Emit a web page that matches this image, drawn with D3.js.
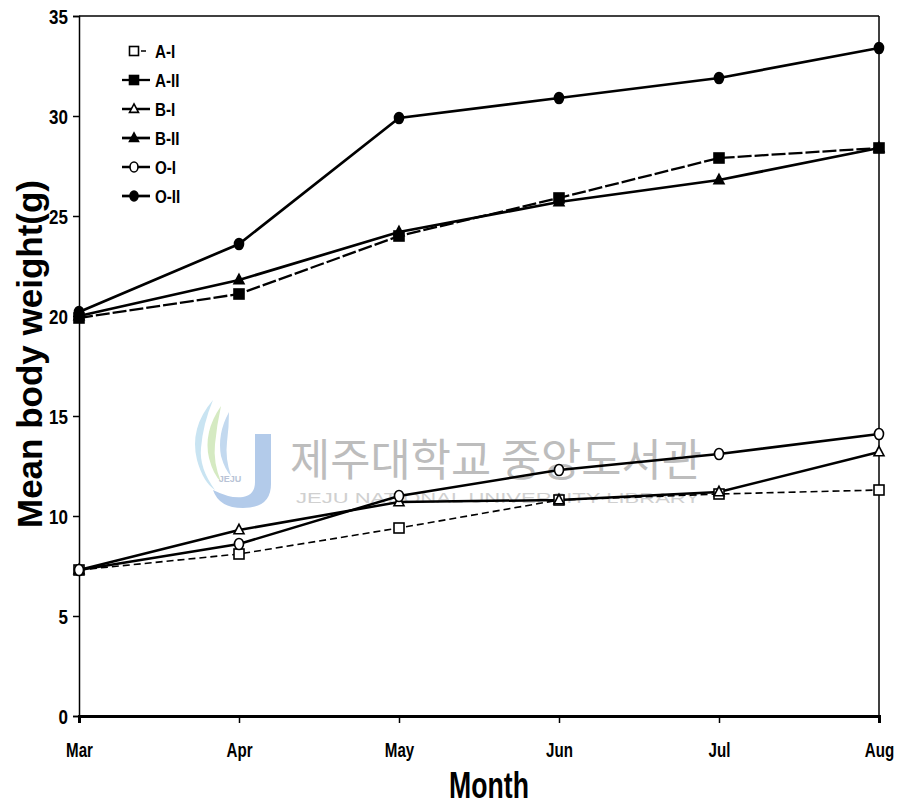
<!DOCTYPE html>
<html>
<head>
<meta charset="utf-8">
<script src="https://cdn.jsdelivr.net/npm/d3@7/dist/d3.min.js"></script>
<style>
  html, body { margin: 0; padding: 0; background: #fff; }
  svg { display: block; }
  .lbl { font-family: "Liberation Sans", Arial, sans-serif; font-weight: bold; fill: #000; }
</style>
</head>
<body>
<svg id="chart" width="904" height="809"></svg>
<script>
// Months on the x axis
const months = ["Mar", "Apr", "May", "Jun", "Jul", "Aug"];
// Y axis tick values
const yTicks = [0, 5, 10, 15, 20, 25, 30, 35];
// Mean body weight (g) per group and month
const seriesNames = ["A-I", "A-II", "B-I", "B-II", "O-I", "O-II"];
const aI   = [7.3, 8.1, 9.4, 10.8, 11.1, 11.3];
const aII  = [19.9, 21.1, 24.0, 25.9, 27.9, 28.4];
const bI   = [7.3, 9.3, 10.7, 10.8, 11.2, 13.2];
const bII  = [20.0, 21.8, 24.2, 25.7, 26.8, 28.4];
const oI   = [7.3, 8.6, 11.0, 12.3, 13.1, 14.1];
const oII  = [20.2, 23.6, 29.9, 30.9, 31.9, 33.4];

const seriesValues = [aI, aII, bI, bII, oI, oII];
// marker shape, filled?, dashed line?, line width
const styles = [
  { shape: "square",   filled: false, dash: "7,4",  width: 1.6 },
  { shape: "square",   filled: true,  dash: "14,3", width: 2.3 },
  { shape: "triangle", filled: false, dash: null,   width: 2.5 },
  { shape: "triangle", filled: true,  dash: null,   width: 2.7 },
  { shape: "circle",   filled: false, dash: null,   width: 2.5 },
  { shape: "circle",   filled: true,  dash: null,   width: 2.7 }
];

const svg = d3.select("#chart");
const margin = { left: 79, right: 25, top: 16, bottom: 93 };
const W = 904, H = 809;

const x = d3.scalePoint().domain(months).range([margin.left, W - margin.right]);
const y = d3.scaleLinear().domain([0, 35]).range([H - margin.bottom, margin.top]);

// Squeeze bold text horizontally (about its x anchor) to get a condensed face
function condense(sel, factor) {
  sel.each(function () {
    const t = d3.select(this);
    const x0 = +t.attr("x") || 0;
    t.attr("x", 0).attr("transform", `translate(${x0},0) scale(${factor},1)`);
  });
}

// Library watermark (faint, behind the data)
const wm = svg.append("g").attr("class", "watermark");
const logo = wm.append("g").attr("transform", "translate(185,398)");
logo.append("path")
  .attr("d", "M70,36 L86,36 L86,86 Q86,110 58,110 Q34,110 28,92 Q46,101 58,99 Q70,97 70,84 Z")
  .attr("fill", "#b3cbea");
logo.append("path")
  .attr("d", "M28,2 Q4,30 12,62 Q18,84 30,92 Q14,70 16,50 Q18,26 28,2 Z")
  .attr("fill", "#c9e4f2");
logo.append("path")
  .attr("d", "M36,8 Q18,34 24,60 Q28,76 36,84 Q28,64 30,46 Q32,26 36,8 Z")
  .attr("fill", "#d5eac2");
logo.append("path")
  .attr("d", "M44,14 Q32,36 36,58 Q40,72 46,78 Q40,60 42,44 Q44,28 44,14 Z")
  .attr("fill", "#c3d9ef");
logo.append("text").attr("x", 45).attr("y", 84).attr("text-anchor", "middle")
  .attr("font-family", "Liberation Sans, Arial, sans-serif").attr("font-size", 9)
  .attr("font-weight", "bold").attr("fill", "#b8c3d6").text("JEJU");
wm.append("text")
  .attr("x", 290).attr("y", 476)
  .attr("font-family", "Noto Sans CJK KR, sans-serif")
  .attr("font-size", 44).attr("fill", "#bdbdbd")
  .attr("textLength", 412).attr("lengthAdjust", "spacingAndGlyphs")
  .text("제주대학교 중앙도서관");
wm.append("text")
  .attr("x", 296).attr("y", 503)
  .attr("font-family", "Liberation Sans, Arial, sans-serif")
  .attr("font-size", 15).attr("fill", "#d0d0d0")
  .attr("textLength", 404).attr("lengthAdjust", "spacingAndGlyphs")
  .text("JEJU NATIONAL UNIVERSITY LIBRARY");

// Frame: top and right edges
svg.append("line").attr("x1", x(months[0])).attr("x2", x(months[5]))
  .attr("y1", y(35)).attr("y2", y(35)).attr("stroke", "#000").attr("stroke-width", 1.5);
svg.append("line").attr("x1", x(months[5])).attr("x2", x(months[5]))
  .attr("y1", y(35)).attr("y2", y(0)).attr("stroke", "#000").attr("stroke-width", 1.5);

// Y axis
const yAxis = svg.append("g")
  .attr("transform", `translate(${margin.left},0)`)
  .call(d3.axisLeft(y).tickValues(yTicks).tickSize(6).tickPadding(5).tickFormat(d3.format("d")));
yAxis.select(".domain").attr("stroke-width", 1.5);
yAxis.selectAll(".tick line").attr("stroke-width", 1.5);
yAxis.selectAll(".tick text").attr("class", "lbl").attr("font-size", 20)
  .attr("dy", "0.36em").call(condense, 0.85);

// X axis
const xAxis = svg.append("g")
  .attr("transform", `translate(0,${y(0)})`)
  .call(d3.axisBottom(x).tickSize(7).tickPadding(19));
xAxis.select(".domain").attr("stroke-width", 3);
xAxis.selectAll(".tick line").attr("stroke-width", 1.5);
xAxis.selectAll(".tick text").attr("class", "lbl").attr("font-size", 21)
  .call(condense, 0.72);

// Axis titles
svg.append("text").attr("class", "lbl")
  .attr("x", 489).attr("y", 798).attr("text-anchor", "middle")
  .attr("font-size", 37)
  .text("Month").call(condense, 0.72);
svg.append("text").attr("class", "lbl")
  .attr("transform", "translate(42,354) rotate(-90)")
  .attr("text-anchor", "middle").attr("font-size", 35)
  .text("Mean body weight(g)");

// Marker drawing helper
function drawMarker(g, shape, filled, cx, cy, s) {
  const fill = filled ? "#000" : "#fff";
  if (shape === "square") {
    g.append("rect").attr("x", cx - s / 2).attr("y", cy - s / 2)
      .attr("width", s).attr("height", s)
      .attr("fill", fill).attr("stroke", "#000").attr("stroke-width", 1.6);
  } else if (shape === "triangle") {
    const h = s * 0.95;
    g.append("path")
      .attr("d", `M${cx},${cy - h * 0.6} L${cx + s / 2},${cy + h * 0.4} L${cx - s / 2},${cy + h * 0.4} Z`)
      .attr("fill", fill).attr("stroke", "#000").attr("stroke-width", 1.6);
  } else {
    g.append("ellipse").attr("cx", cx).attr("cy", cy).attr("rx", s / 2 - 0.5).attr("ry", s / 2 + 0.5)
      .attr("fill", fill).attr("stroke", "#000").attr("stroke-width", 1.6);
  }
}

// Series lines and markers
const line = d3.line().x((d, i) => x(months[i])).y(d => y(d));
const plot = svg.append("g");
seriesValues.forEach((vals, k) => {
  const st = styles[k];
  plot.append("path").datum(vals)
    .attr("d", line).attr("fill", "none").attr("stroke", "#000")
    .attr("stroke-width", st.width)
    .attr("stroke-dasharray", st.dash);
});
seriesValues.forEach((vals, k) => {
  const st = styles[k];
  const g = plot.append("g");
  vals.forEach((v, i) => drawMarker(g, st.shape, st.filled, x(months[i]), y(v), 10));
});

// Legend
const legend = svg.append("g").attr("transform", "translate(122,51)");
seriesNames.forEach((name, k) => {
  const st = styles[k];
  const row = legend.append("g").attr("transform", `translate(0,${k * 29})`);
  row.append("line").attr("x1", 0).attr("x2", 28).attr("y1", 0).attr("y2", 0)
    .attr("stroke", "#000").attr("stroke-width", st.width)
    .attr("stroke-dasharray", k === 0 ? "0,19,5,14" : null);
  drawMarker(row, st.shape, st.filled, 12, 0, 9);
  row.append("text").attr("class", "lbl")
    .attr("x", 33).attr("y", 0).attr("dy", "0.36em")
    .attr("font-size", 19)
    .text(name).call(condense, 0.8);
});
</script>
</body>
</html>
